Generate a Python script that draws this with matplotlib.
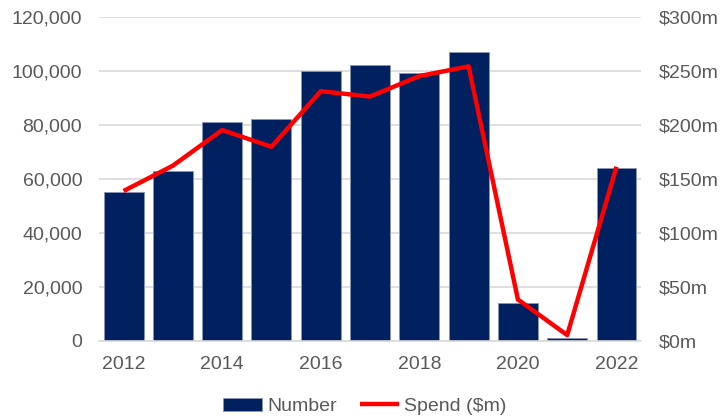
import numpy as np
import matplotlib.pyplot as plt
from matplotlib.ticker import FuncFormatter

plt.rcParams['font.family'] = ['Liberation Sans', 'DejaVu Sans']

years = [2012, 2013, 2014, 2015, 2016, 2017, 2018, 2019, 2020, 2021, 2022]
number = [55000, 63000, 81000, 82000, 100000, 102000, 99000, 107000, 14000, 800, 64000]
spend = [138.5, 162, 195, 179.5, 231, 226, 245, 254, 38, 5, 161]

navy = '#002060'
grey_text = '#595959'
x = np.arange(len(years))

fig = plt.figure(figsize=(7.22, 4.18), dpi=100)
ax = fig.add_axes([0.137, 0.1854, 0.751, 0.7746])
bars = ax.bar(x, number, width=0.81, color=navy, edgecolor='#8a96b4', linewidth=0.6,
              zorder=2, label='Number')
ax.set_ylim(0, 120000)
ax.set_xlim(-0.5, len(years) - 0.5)
ax.set_yticks(np.arange(0, 120001, 20000))
ax.yaxis.set_major_formatter(FuncFormatter(lambda v, p: f'{int(v):,}'))
ax.set_xticks(x[::2])
ax.set_xticklabels([str(y) for y in years[::2]])
ax.grid(axis='y', color='#d9d9d9', linewidth=1.2, zorder=0)
ax.set_axisbelow(True)
for s in ['top', 'left', 'right']:
    ax.spines[s].set_visible(False)
ax.spines['bottom'].set_color('#d9d9d9')
ax.spines['bottom'].set_linewidth(1.2)
ax.tick_params(axis='both', length=0, labelsize=14, colors=grey_text)
ax.tick_params(axis='y', pad=12)
ax.tick_params(axis='x', pad=11)

ax2 = ax.twinx()
line, = ax2.plot(x, spend, color='#ff0000', linewidth=3.2, label='Spend ($m)',
                 solid_capstyle='butt')
ax2.set_ylim(0, 300)
ax2.set_yticks(np.arange(0, 301, 50))
ax2.yaxis.set_major_formatter(FuncFormatter(lambda v, p: f'${int(v)}m'))
for s in ax2.spines.values():
    s.set_visible(False)
ax2.tick_params(axis='y', length=0, labelsize=14, colors=grey_text, pad=13)

fig.legend([bars, line], ['Number', 'Spend ($m)'], loc='lower center',
           bbox_to_anchor=(0.505, -0.035), ncol=2, frameon=False, fontsize=14,
           handlelength=2.0, handletextpad=0.25, columnspacing=1.2,
           labelcolor=grey_text)

fig.savefig('out.png', dpi=100)
